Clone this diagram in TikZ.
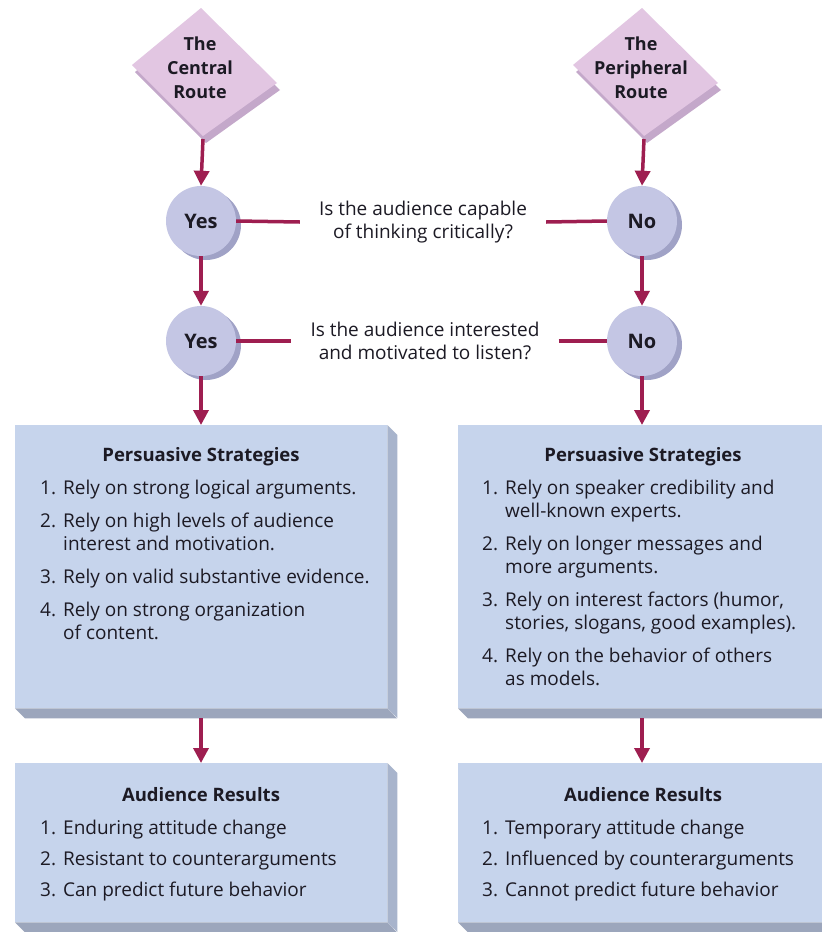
\documentclass[tikz,border=0pt]{standalone}
\usepackage{fontspec}
\setmainfont{Open Sans}
\usetikzlibrary{arrows.meta,shadows}

\definecolor{flowred}{RGB}{158,30,80}
\definecolor{inktext}{RGB}{28,26,36}
\definecolor{diaface}{RGB}{226,198,226}
\definecolor{diaside}{RGB}{196,168,202}
\definecolor{circface}{RGB}{196,198,228}
\definecolor{circshade}{RGB}{160,162,198}
\definecolor{boxface}{RGB}{198,212,236}
\definecolor{boxside}{RGB}{168,180,204}
\definecolor{boxbottom}{RGB}{156,166,188}

\newcommand\bodysize{\fontsize{19}{23}\selectfont}
\newcommand\num[1]{\makebox[23pt][l]{#1}}

\tikzset{
  flow/.style={draw=flowred, line width=3.5pt, -{Triangle[length=15pt,width=15pt]}},
  link/.style={draw=flowred, line width=3.5pt},
  decision/.style={circle, fill=circface, minimum size=70pt, inner sep=0pt,
    text=inktext, font=\fontsize{20}{24}\selectfont\bfseries,
    drop shadow={shadow xshift=5pt, shadow yshift=-4pt, fill=circshade, opacity=1}},
  diatext/.style={align=center, text=inktext, font=\fontsize{18}{24}\selectfont\bfseries},
  question/.style={align=center, text=inktext, font=\bodysize, inner xsep=19pt},
  facebox/.style={fill=boxface, inner sep=0pt, anchor=north west},
  titletext/.style={text=inktext, font=\fontsize{18.5}{23}\selectfont\bfseries, anchor=base},
  listtext/.style={text=inktext, font=\bodysize, anchor=base west, inner sep=0pt},
  routediamond/.pic={
    \fill[diaside] (3,15) -- (79,90) -- (5,143) -- (-66,72) -- cycle;
    \fill[diaface] (0,8) -- (76,83) -- (2,136) -- (-69,65) -- cycle;
    \coordinate (-bottom) at (2,139);
  }
}

\begin{document}
\begin{tikzpicture}[x=1pt,y=-1pt]
\clip (0,0) rectangle (822,932);
\fill[white] (0,0) rectangle (822,932);

% route diamonds
\pic (cd) at (201,0) {routediamond};
\pic (pd) at (642,0) {routediamond};
\node[diatext] (cdt) at (200,68) {The\\Central\\Route};
\node[diatext] (pdt) at (641,68) {The\\Peripheral\\Route};

% decision circles
\node[decision] (cy1) at (201,221) {Yes};
\node[decision] (cy2) at (201,341) {Yes};
\node[decision] (pn1) at (642,221) {No};
\node[decision] (pn2) at (642,341) {No};

% questions between the two routes
\node[question] (q1) at (423,222) {Is the audience capable\\of thinking critically?};
\node[question] (q2) at (425,341) {Is the audience interested\\and motivated to listen?};
\draw[link] (cy1.east) -- (q1.west);
\draw[link] (q1.east) -- (pn1.west);
\draw[link] (cy2.east) -- (q2.west);
\draw[link] (q2.east) -- (pn2.west);

% strategy boxes
\node[facebox, minimum width=372pt, minimum height=283pt] (ps1) at (15,425) {};
\fill[boxside] (ps1.north east) -- ++(10,10) -- ++(0,283) -- (ps1.south east) -- cycle;
\fill[boxbottom] (ps1.south west) -- ++(10,10) -- ++(372,0) -- (ps1.south east) -- cycle;
\node[facebox, minimum width=372pt, minimum height=283pt] (ps2) at (458,425) {};
\fill[boxside] (ps2.north east) -- ++(10,10) -- ++(0,283) -- (ps2.south east) -- cycle;
\fill[boxbottom] (ps2.south west) -- ++(10,10) -- ++(372,0) -- (ps2.south east) -- cycle;

% result boxes
\node[facebox, minimum width=372pt, minimum height=159pt] (rs1) at (15,763) {};
\fill[boxside] (rs1.north east) -- ++(10,10) -- ++(0,159) -- (rs1.south east) -- cycle;
\fill[boxbottom] (rs1.south west) -- ++(10,10) -- ++(372,0) -- (rs1.south east) -- cycle;
\node[facebox, minimum width=372pt, minimum height=159pt] (rs2) at (458,763) {};
\fill[boxside] (rs2.north east) -- ++(10,10) -- ++(0,159) -- (rs2.south east) -- cycle;
\fill[boxbottom] (rs2.south west) -- ++(10,10) -- ++(372,0) -- (rs2.south east) -- cycle;

% flow arrows
\draw[flow] (cd-bottom) -- (cy1.north);
\draw[flow] (cy1.south) -- (cy2.north);
\draw[flow] (cy2.south) -- (cy2.south |- ps1.north);
\draw[flow] (pd-bottom) -- (pn1.north);
\draw[flow] (pn1.south) -- (pn2.north);
\draw[flow] (pn2.south) -- (pn2.south |- ps2.north);
\coordinate (ps1b) at (201,718);
\coordinate (ps2b) at (642,718);
\draw[flow] (ps1b) -- (ps1b |- rs1.north);
\draw[flow] (ps2b) -- (ps2b |- rs2.north);

% box texts
\node[titletext] (ps1t) at (201,461) {Persuasive Strategies};
\node[listtext] (ps1l) at (40,494) {\begin{tabular}[t]{@{}l@{}l@{}}
\num{1.} & Rely on strong logical arguments.\\[10pt]
\num{2.} & Rely on high levels of audience\\
 & interest and motivation.\\[10pt]
\num{3.} & Rely on valid substantive evidence.\\[10pt]
\num{4.} & Rely on strong organization\\
 & of content.
\end{tabular}};

\node[titletext] (ps2t) at (643,461) {Persuasive Strategies};
\node[listtext] (ps2l) at (482,494) {\begin{tabular}[t]{@{}l@{}l@{}}
\num{1.} & Rely on speaker credibility and\\
 & well-known experts.\\[10pt]
\num{2.} & Rely on longer messages and\\
 & more arguments.\\[10pt]
\num{3.} & Rely on interest factors (humor,\\
 & stories, slogans, good examples).\\[10pt]
\num{4.} & Rely on the behavior of others\\
 & as models.
\end{tabular}};

\node[titletext] (rs1t) at (201,801) {Audience Results};
\node[listtext] (rs1l) at (40,834) {\begin{tabular}[t]{@{}l@{}l@{}}
\num{1.} & Enduring attitude change\\[8pt]
\num{2.} & Resistant to counterarguments\\[8pt]
\num{3.} & Can predict future behavior
\end{tabular}};

\node[titletext] (rs2t) at (643,801) {Audience Results};
\node[listtext] (rs2l) at (482,834) {\begin{tabular}[t]{@{}l@{}l@{}}
\num{1.} & Temporary attitude change\\[8pt]
\num{2.} & Influenced by counterarguments\\[8pt]
\num{3.} & Cannot predict future behavior
\end{tabular}};
\end{tikzpicture}
\end{document}
